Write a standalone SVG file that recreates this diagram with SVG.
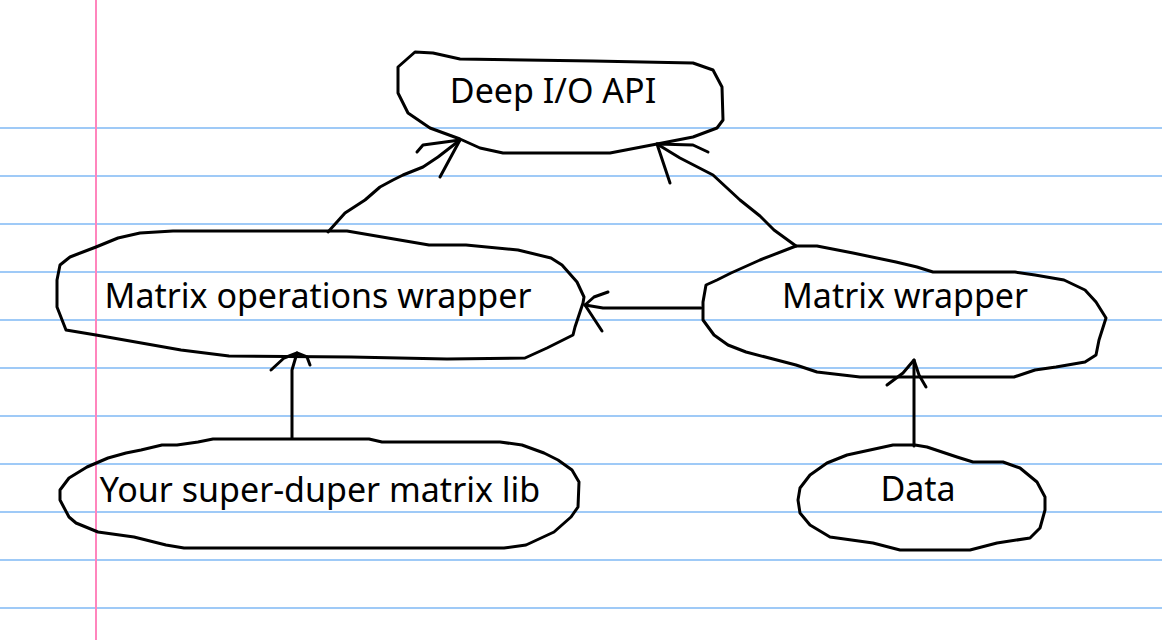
<svg xmlns="http://www.w3.org/2000/svg" width="1162" height="640" viewBox="0 0 1162 640">
<style>
.rule{stroke:#9fcaf7;stroke-width:2}
.margin{stroke:#ff85bd;stroke-width:2}
.ink{fill:none;stroke:#000;stroke-width:3;stroke-linejoin:round;stroke-linecap:round}
.lbl{font-family:"Noto Sans","Open Sans",sans-serif;font-size:34px;fill:#000;text-anchor:middle}
</style>
<rect width="1162" height="640" fill="#fff"/>
<g id="paper">
<line class="rule" x1="0" y1="128" x2="1162" y2="128"/>
<line class="rule" x1="0" y1="176" x2="1162" y2="176"/>
<line class="rule" x1="0" y1="224" x2="1162" y2="224"/>
<line class="rule" x1="0" y1="272" x2="1162" y2="272"/>
<line class="rule" x1="0" y1="320" x2="1162" y2="320"/>
<line class="rule" x1="0" y1="368" x2="1162" y2="368"/>
<line class="rule" x1="0" y1="416" x2="1162" y2="416"/>
<line class="rule" x1="0" y1="464" x2="1162" y2="464"/>
<line class="rule" x1="0" y1="512" x2="1162" y2="512"/>
<line class="rule" x1="0" y1="560" x2="1162" y2="560"/>
<line class="rule" x1="0" y1="608" x2="1162" y2="608"/>
<line class="margin" x1="96" y1="0" x2="96" y2="640"/>
</g>
<g id="connectors">
<path class="ink" d="M328,232 L345,213 L365,200 L380,187 L393,180 L403,175 L423,167 L438,157 L460,140"/>
<path class="ink" d="M417,152 L423,145 L460,140 L440,177"/>
<path class="ink" d="M796,246 L774,230 L760,216 L740,200 L713,175 L680,158 L657,144"/>
<path class="ink" d="M708,152 L693,145 L657,144 L670,183"/>
<path class="ink" d="M701,308 L603,308 L585,305"/>
<path class="ink" d="M608,292 L594,297 L585,305 L602,331"/>
<path class="ink" d="M292,438 L292,370 L297,353"/>
<path class="ink" d="M271,370 L284,358 L297,353 L307,357 L310,365"/>
<path class="ink" d="M914,446 L914,360"/>
<path class="ink" d="M887,385 L903,373 L914,360 L919,375 L926,387"/>
</g>
<g id="node-deep-io-api">
<path class="ink" d="M415,52 L433,53 L460,59 L593,61 L693,63 L713,70 L722,87 L723,120 L717,128 L693,137 L657,144 L610,153 L503,153 L480,148 L460,139 L430,128 L408,113 L398,93 L398,67 Z"/>
<text class="lbl" x="553" y="103">Deep I/O API</text>
</g>
<g id="node-matrix-operations-wrapper">
<path class="ink" d="M329,231 L173,231 L140,233 L118,238 L96,247 L70,257 L60,265 L57,280 L57,307 L66,330 L96,335 L181,350 L229,356 L351,357 L447,359 L525,358 L547,348 L573,335 L575,327 L583,303 L584,297 L577,282 L562,265 L551,258 L518,250 L466,245 L429,245 L388,238 L347,231 Z"/>
<text class="lbl" x="318" y="308">Matrix operations wrapper</text>
</g>
<g id="node-matrix-wrapper">
<path class="ink" d="M796,246 L817,246 L853,253 L896,262 L917,267 L933,272 L1015,272 L1035,275 L1064,280 L1085,290 L1096,302 L1106,318 L1099,340 L1096,355 L1085,362 L1056,367 L1035,370 L1014,377 L860,377 L817,372 L796,365 L746,352 L728,345 L714,335 L703,320 L703,302 L706,285 L717,280 L731,273 L760,260 Z"/>
<text class="lbl" x="905" y="308">Matrix wrapper</text>
</g>
<g id="node-super-duper-lib">
<path class="ink" d="M294,439 L213,439 L198,442 L177,445 L162,445 L141,450 L126,453 L108,458 L87,467 L69,478 L60,490 L60,500 L69,517 L76,523 L98,532 L134,537 L166,545 L184,548 L504,548 L526,545 L554,532 L571,517 L578,507 L579,482 L572,470 L558,460 L544,453 L522,445 L500,442 L382,442 L369,439 Z"/>
<text class="lbl" x="320" y="502">Your super-duper matrix lib</text>
</g>
<g id="node-data">
<path class="ink" d="M915,445 L893,445 L870,450 L847,455 L827,463 L810,475 L800,488 L798,500 L800,513 L810,525 L830,537 L873,543 L900,550 L970,550 L997,543 L1030,538 L1040,528 L1045,510 L1045,497 L1037,482 L1020,468 L1003,462 L973,462 L957,457 L927,447 Z"/>
<text class="lbl" x="918" y="501">Data</text>
</g>
</svg>
